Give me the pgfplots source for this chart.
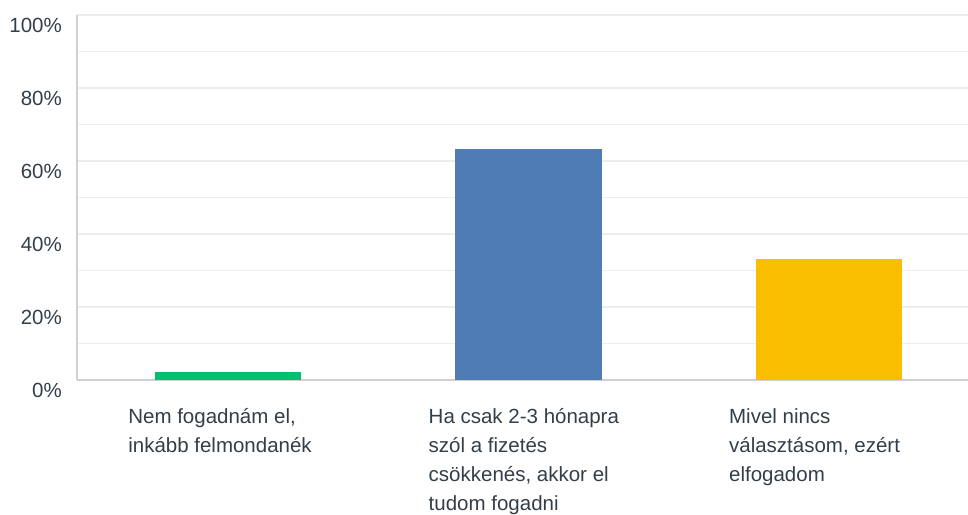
\documentclass[border=0pt]{standalone}
\usepackage{fontspec}
\setmainfont{Liberation Sans}
\usepackage{pgfplots}
\pgfplotsset{compat=1.18}
\definecolor{smgreen}{HTML}{00BF6F}
\definecolor{smblue}{HTML}{507CB6}
\definecolor{smyellow}{HTML}{F9BE00}
\definecolor{txt}{HTML}{333E48}
\definecolor{gridc}{HTML}{EDEDED}
\definecolor{axl}{HTML}{D0D0D0}
\begin{document}
\begin{tikzpicture}
\useasboundingbox (0,0) rectangle (968pt,514pt);
\begin{axis}[
  at={(77pt,134pt)}, anchor=south west,
  scale only axis, width=891pt, height=365pt,
  xmin=-0.503, xmax=2.463, ymin=0, ymax=100,
  ybar, bar width=0.487, bar shift=0pt,
  axis x line=bottom, axis y line=left,
  axis line style={-, draw=axl, line width=1.5pt},
  ytick={0,20,40,60,80,100},
  yticklabels={0\%,20\%,40\%,60\%,80\%,100\%},
  minor ytick={10,30,50,70,90},
  ymajorgrids, yminorgrids,
  major grid style={draw=gridc, line width=1.5pt},
  minor grid style={draw=gridc, line width=1.5pt},
  major tick length=0pt, minor tick length=0pt,
  xtick={0,1,2},
  xticklabels={{Nem fogadnám el,\\inkább felmondanék},{Ha csak 2-3 hónapra\\szól a fizetés\\csökkenés, akkor el\\tudom fogadni},{Mivel nincs\\választásom, ezért\\elfogadom}},
  xticklabel style={anchor=north west, inner sep=0pt, xshift=-100pt, yshift=-28.4pt, align=left, text=txt, font=\fontsize{20.5}{29}\selectfont},
  yticklabel style={anchor=east, inner sep=0pt, xshift=-15pt, yshift=-10pt, text=txt, font=\fontsize{20.5}{24}\selectfont},
  clip=false,
]
\addplot[fill=smgreen, draw=none] coordinates {(0,2.2)};
\addplot[fill=smblue, draw=none] coordinates {(1,63.4)};
\addplot[fill=smyellow, draw=none] coordinates {(2,33.1)};
\end{axis}
\end{tikzpicture}
\end{document}
